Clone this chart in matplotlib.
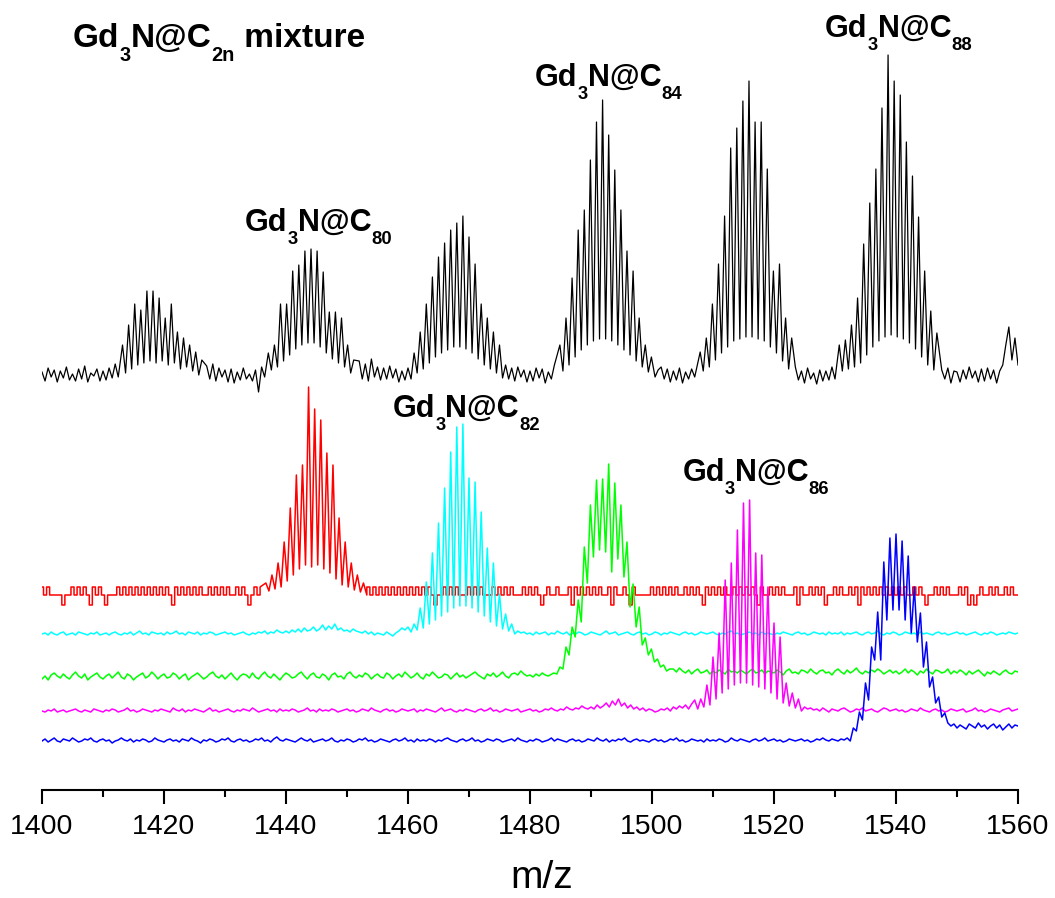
import numpy as np
import matplotlib
matplotlib.use("Agg")
import matplotlib.pyplot as plt
from matplotlib.ticker import MultipleLocator

plt.rcParams['font.family'] = ['Liberation Sans', 'DejaVu Sans']

# noise samples start at m/z 1400, one value every 0.5 m/z
mz0 = 1400
step = 0.5

# baseline of each trace (arb. intensity, stacked)
base_black = 415
base_red = 195
base_cyan = 156
base_green = 113
base_magenta = 79
base_blue = 49

# isotope clusters: (first peak m/z, peak heights, dips between peaks)
black_clusters = [
    (1413.2, [30, 50, 71, 65, 84, 84, 77, 57, 71, 43, 37, 30, 23, 15],
     [2, 6, 10, 12, 14, 12, 14, 10, 12, 6, 8, 4, 0]),
    (1437.1, [22, 30, 71, 71, 104, 110, 124, 126, 124, 103, 63, 63, 57, 30, 15],
     [5, 8, 14, 20, 26, 30, 32, 32, 28, 22, 16, 12, 8, 2]),
    (1461.0, [22, 43, 71, 98, 118, 132, 145, 152, 159, 138, 111, 71, 57, 43, 30],
     [2, 6, 12, 18, 22, 25, 28, 28, 26, 22, 16, 10, 6, 2]),
    (1484.9, [30, 57, 97, 145, 165, 215, 253, 275, 240, 205, 165, 124, 104, 57, 30, 18],
     [4, 10, 18, 25, 30, 34, 36, 36, 34, 30, 25, 20, 14, 8, 3]),
    (1507.9, [23, 37, 71, 111, 159, 227, 247, 274, 294, 253, 253, 206, 104, 111, 57, 37],
     [4, 8, 15, 22, 28, 34, 36, 38, 38, 36, 34, 28, 22, 14, 6]),
    (1530.7, [30, 35, 50, 77, 131, 172, 206, 267, 320, 294, 280, 233, 199, 158, 104, 64, 42],
     [4, 6, 8, 12, 20, 28, 34, 38, 40, 38, 36, 32, 26, 18, 10, 5]),
]
red_cluster = (1436.7, [12, 20, 32, 53, 87, 120, 130, 208, 186, 175, 142, 130, 77, 53, 32, 20, 12],
               [4, 6, 8, 14, 20, 26, 30, 28, 30, 26, 22, 16, 10, 8, 5, 3])
cyan_cluster = (1460.0, [7, 10, 26, 52, 81, 111, 146, 182, 207, 210, 156, 152, 122, 86, 71, 40, 20, 10],
                [2, 4, 6, 10, 14, 18, 22, 26, 28, 28, 26, 22, 18, 12, 8, 5, 3])
green_cluster = (1483.9, [4, 10, 30, 50, 77, 130, 172, 197, 198, 213, 194, 172, 135, 93, 70, 39, 28, 18, 12, 8],
                 [3, 8, 22, 40, 55, 94, 120, 127, 125, 105, 118, 100, 70, 50, 32, 22, 15, 10, 6])
magenta_cluster = (1507.0, [11, 12, 26, 54, 78, 131, 148, 181, 208, 211, 158, 156, 124, 88, 74, 28, 18, 12],
                   [2, 4, 6, 12, 18, 22, 26, 28, 28, 26, 24, 22, 18, 12, 8, 5, 3])
blue_cluster = (1533.0, [13, 29, 58, 94, 129, 179, 203, 207, 200, 185, 154, 128, 99, 64, 44, 28],
                [10, 21, 41, 81, 81, 121, 131, 131, 121, 108, 99, 74, 54, 38, 24])

# baseline noise
black_noise = [
    3, -6, 7, -2, 5, -7, 4, -3, 8, -5, 1, -6, 6, -4, 9, -7, 2, -1, 6, -6,
    4, -5, 7, -3, 11, -2, 12, -4, 10, -3, 6, -2, 5, -3, 4, -2, 5, -3, 4, -2,
    4, -2, 5, -3, 4, -2, 5, -3, 4, -2, 5, -3, 4, -2, 9, -4, 11, -6, 7, -2,
    5, -7, 6, -8, 3, -5, 7, -4, 1, -6, 5, -17, 8, -2, 11, -3, 14, -2, 15, -3,
    4, -2, 5, -3, 4, -2, 5, -3, 4, -2, 5, -3, 4, -2, 5, -3, 4, -2, 5, -3,
    4, -2, 5, -3, 14, -4, 11, -6, 16, -2, 8, -5, 7, -4, 9, -3, 6, -7, 4, -5,
    7, -4, 4, -2, 5, -3, 4, -2, 5, -3, 4, -2, 5, -3, 4, -2, 5, -3, 4, -2,
    4, -2, 5, -3, 4, -2, 5, -3, 4, -2, 5, -3, 10, -4, 7, -6, 8, -2, 5, -7,
    4, -6, 7, -3, 6, -8, 3, -4, 10, -2, 5, -3, 4, -2, 5, -3, 4, -2, 5, -3,
    4, -2, 5, -3, 4, -2, 5, -3, 4, -2, 5, -3, 4, -2, 5, -3, 4, -2, 5, -3,
    4, -2, 5, 8, -4, 6, -7, 4, -5, 7, -8, 3, -4, 6, -2, 7, -3, 5, -2, 4,
    4, -2, 5, -3, 4, -2, 5, -3, 4, -2, 5, -3, 4, -2, 5, -3, 4, -2, 5, -3,
    4, -2, 5, -3, 4, -2, 5, 8, -5, 4, -8, 7, -4, 2, -9, 5, -6, 4, -5, 8,
    -4, 7, -3, 5, -3, 5, -2, 4, -3, 5, -2, 4, -3, 5, -2, 4, -3, 5, -2, 4,
    -3, 5, -2, 4, -3, 5, -2, 4, -3, 5, -2, 4, -3, 5, -2, 5, -4, 7, -8, 4,
    3, -7, 5, -4, 8, -3, 4, -7, 6, -6, 7, -4, 5, -8, 4, 10, 30, 48, 15, 37,
    10,
]
# red trace is digitised in steps: 1 = up step, -1 = down step
red_codes = [
    1, 0, 1, 0, 0, 0, 0, -1, 0, 0, 1, 0, 1, 0, 1, 0, -1, 1, 0, 1,
    0, -1, 0, 0, 0, 1, 0, 1, 0, 1, 0, 1, 0, 1, 0, 1, 0, 1, 0, 1,
    0, 1, 0, -1, 1, 0, 1, 0, 1, 0, 1, 0, 1, 0, 0, 1, 0, 1, 0, 1,
    0, 1, 0, 0, 1, 0, 1, 0, -1, 0, 1, 0, 1, 0, 1, 0, 1, 0, 1, 0,
    0, 0, 0, 0, 0, 0, 0, 0, 0, 0, 0, 0, 0, 0, 0, 0, 0, 0, 0, 0,
    0, 0, 0, 0, 0, 0, 0, 1, 0, 1, 0, 1, 0, 1, 0, 1, 0, 1, 0, 1,
    0, 1, 0, 1, 0, 1, 0, 1, 0, -1, 0, 0, 1, 0, 1, 0, 1, 0, 0, 0,
    1, 0, 1, 0, 1, 0, 0, 0, 1, 0, 1, 0, 1, 0, 1, 0, 0, 0, 1, 0,
    1, 0, 1, 0, -1, 0, 1, 0, 0, 1, 0, 0, 0, 1, -1, 1, 0, 1, 0, 1,
    0, 1, 0, 1, 0, 0, 1, -1, 1, 0, 0, 1, 0, -1, 1, 0, 0, 0, 0, 0,
    1, 0, 1, 0, 1, 0, 1, 0, 1, 0, 0, 1, 0, 1, 0, 1, 0, -1, 1, 0,
    1, 0, 1, 0, 1, 0, 0, 1, 0, 1, 0, 1, 0, 1, 0, -1, 1, 0, 0, 1,
    0, 1, 0, 1, 0, 0, 0, 1, -1, 1, 0, 0, 1, 0, 1, 0, 1, -1, 0, 0,
    1, 0, 1, 0, 0, 1, 0, 1, -1, 1, 0, 1, 0, 1, 0, 1, 0, 1, 0, 1,
    0, 1, 0, 1, 0, 0, 1, 0, 1, 0, -1, 0, 0, 1, 0, 1, 0, 1, 0, 0,
    0, 1, 0, 1, -1, 0, -1, 0, 1, 0, 0, 1, 0, 1, 0, 0, 1, 0, 1, 0,
    0,
]
red_up = 8
red_down = -10
cyan_noise = [
    0, 1, -1, 2, 0, -1, 1, 2, -1, 0, 1, -1, 2, 1, 0, -1, 1, 0, 2, -1,
    0, 1, -1, 1, 2, 0, -1, 1, 0, 2, -1, 1, 3, 0, 1, -1, 2, 1, 0, 1,
    -1, 2, 0, 1, 3, 0, 1, -1, 2, 1, 0, 2, -1, 1, 0, 2, 1, -1, 0, 1,
    2, 0, 1, -1, 0, 1, 2, 0, -1, 1, 0, 2, 1, 3, 0, 2, 1, 4, 2, 1,
    3, 1, 4, 2, 5, 2, 6, 3, 4, 7, 3, 5, 9, 4, 8, 5, 10, 4, 6, 3,
    4, 2, 5, 3, 2, 1, 3, 0, 2, -1, 1, 0, -1, 2, 0, -2, 1, 3, 6, 4,
    0, 0, 0, 0, 0, 0, 0, 0, 0, 0, 0, 0, 0, 0, 0, 0, 0, 0, 0, 0,
    0, 0, 0, 0, 0, 0, 0, 0, 0, 0, 0, 0, 0, 0, 0, 0, 3, 1, 2, 0,
    1, -1, 2, 0, 1, 2, -1, 1, 0, 3, 1, 0, 2, -1, 1, 0, 2, 1, -1, 0,
    2, 1, 0, -1, 1, 3, 0, 1, 2, -1, 0, 1, 2, 0, -1, 1, 2, 0, 1, -1,
    0, 2, 1, -1, 1, 0, 2, 1, 0, -1, 1, 2, 0, 1, -1, 0, 2, 1, 0, 1,
    2, 0, -1, 1, 0, 2, 3, 0, 1, -1, 0, 1, 2, 0, 1, -1, 2, 0, 1, 0,
    -1, 1, 0, 2, 1, 0, -1, 1, 2, 0, 1, -1, 0, 2, 1, 0, 1, -1, 2, 0,
    1, 0, 2, -1, 1, 0, 1, 2, 0, -1, 1, 2, 0, 1, 3, 0, -1, 1, 0, 2,
    1, -1, 0, 2, 1, 0, 1, -1, 2, 0, 1, 0, -1, 1, 2, 0, 1, -1, 0, 1,
    2, 0, 1, -1, 0, 1, 2, 0, -1, 1, 0, 2, 1, -1, 0, 1, 0, 2, 1, 0,
    1,
]
green_noise = [
    -2, 1, -3, 2, 4, 1, -1, 3, 0, -2, 2, 5, 1, -1, 3, -3, 0, 2, 4, 0,
    -2, 1, 3, -1, 2, 5, 0, -2, 3, 1, -3, 0, 2, 4, -1, 1, 5, 2, -2, 1,
    3, -1, 0, 4, 2, -2, 1, 3, -3, 0, 2, 4, 1, -2, 0, 3, 5, 1, -1, 2,
    -2, 1, 4, 0, -3, 1, 3, 2, -1, 4, 0, -2, 2, 5, 1, -1, 3, 0, -3, 1,
    4, 2, -1, 0, 3, 5, 1, -2, 2, 4, 0, -1, 3, 1, -3, 2, 4, 0, 1, -2,
    3, 5, 1, -1, 2, 0, 4, 2, -2, 1, 3, 0, -1, 4, 2, -2, 1, 3, 0, 5,
    2, -1, 1, 4, 0, -2, 3, 1, 5, 2, -1, 0, 3, 2, -2, 1, 4, 0, 2, -1,
    1, 3, 5, 2, 0, -2, 3, 1, 4, 0, 2, 5, 1, -1, 3, 4, 2, 6, 3, 1,
    2, 0, 3, 1, 4, 2, 1, 0, 0, 0, 0, 0, 0, 0, 0, 0, 0, 0, 0, 0,
    0, 0, 0, 0, 0, 0, 0, 0, 0, 0, 0, 0, 0, 0, 0, 0, 0, 0, 0, 0,
    0, 0, 0, 0, 0, 0, 0, 8, 5, 9, 6, 4, 7, 3, 6, 8, 4, 5, 7, 3,
    6, 4, 7, 5, 3, 8, 5, 6, 4, 7, 5, 3, 6, 8, 4, 5, 7, 3, 6, 5,
    4, 7, 5, 2, 6, 8, 4, 5, 3, 7, 6, 4, 8, 5, 3, 6, 7, 4, 5, 2,
    6, 8, 5, 3, 7, 4, 6, 9, 5, 3, 6, 4, 7, 5, 8, 6, 3, 5, 7, 4,
    6, 3, 5, 8, 4, 7, 5, 2, 6, 4, 8, 5, 3, 7, 6, 4, 5, 8, 3, 6,
    4, 7, 5, 2, 6, 3, 5, 7, 4, 1, 5, 3, 6, 4, 2, 5, 7, 4, 3, 6,
    5,
]
magenta_noise = [
    0, -1, 1, 0, 2, -1, 0, 1, -1, 0, 1, 2, 0, -1, 1, 0, -1, 2, 1, 0,
    -1, 1, 0, 2, 1, -1, 0, 1, 3, 0, 1, -1, 0, 2, 1, 0, -1, 1, 0, 2,
    1, 0, -1, 3, 1, 0, 2, -1, 1, 0, 2, 1, 0, -1, 1, 3, 0, 1, -1, 0,
    1, 2, 0, -1, 1, 0, 2, 1, 0, 3, 1, -1, 0, 1, 2, 0, 1, -1, 2, 0,
    1, 0, 2, 1, -1, 0, 1, 3, 0, 1, -1, 2, 0, 1, 0, 2, 1, -1, 0, 1,
    2, 0, 1, -1, 0, 2, 1, 0, 3, 1, 0, -1, 1, 2, 0, 1, -1, 0, 2, 1,
    0, 1, 2, -1, 1, 0, 2, 1, 0, -1, 1, 3, 0, 1, 2, 0, -1, 1, 0, 2,
    1, 0, -1, 1, 2, 0, 1, 3, 0, 1, -1, 0, 2, 1, 0, 1, 2, -1, 0, 1,
    2, 0, 1, -1, 0, 2, 1, 3, 1, 0, 2, 1, 4, 2, 1, 3, 2, 5, 3, 2,
    4, 2, 6, 3, 5, 8, 4, 10, 6, 12, 5, 8, 3, 6, 2, 4, 1, 3, 0, 2,
    1, -1, 0, 2, 1, 3, 0, 4, 2, 5, 3, 6, 2, 7, 4, 8, 5, 9, 6, 10,
    0, 0, 0, 0, 0, 0, 0, 0, 0, 0, 0, 0, 0, 0, 0, 0, 0, 0, 0, 0,
    0, 0, 0, 0, 0, 0, 0, 0, 0, 0, 4, 2, 3, 1, 2, 0, 3, 1, -1, 2,
    1, 0, 2, 3, 1, -1, 0, 2, 1, 3, 0, 1, 2, 0, -1, 1, 3, 2, 0, 1,
    2, 0, 1, -1, 0, 2, 1, 0, 3, 1, 0, -1, 1, 2, 0, 1, -1, 0, 2, 1,
    0, 1, 2, -1, 0, 1, 3, 0, 1, -1, 0, 2, 1, 0, -1, 1, 2, 3, 0, 1,
    2,
]
blue_noise = [
    0, 2, -1, 1, 3, 0, -1, 2, 1, 0, 3, 1, -1, 0, 2, 1, 3, 0, -1, 1,
    2, 0, 1, -2, 0, 1, 3, 1, 0, 2, -1, 1, 0, 2, 1, -1, 0, 3, 1, 0,
    -1, 1, 2, 0, 1, -1, 2, 1, 0, 3, 1, 0, -2, 1, 0, 2, 1, -1, 0, 2,
    1, 3, 0, -1, 1, 2, 0, 1, -1, 0, 2, 1, 3, 0, 1, -1, 2, 4, 1, 0,
    2, 1, 0, -1, 1, 3, 1, 0, 2, -1, 0, 1, 2, 0, 1, 3, 0, -1, 1, 0,
    2, 1, -1, 0, 2, 1, 3, 0, 1, -1, 0, 2, 1, 0, -1, 1, 2, 0, 1, 3,
    0, 1, -1, 2, 0, 1, 0, 2, 1, -1, 1, 0, 2, 3, 1, 0, -1, 1, 2, 0,
    1, 3, 0, 1, -1, 0, 2, 1, 0, 2, 1, -1, 0, 1, 2, 0, 3, 1, 0, -1,
    1, 0, 2, 1, -1, 0, 1, 3, 0, 2, 1, 0, -1, 1, 2, 0, 1, -1, 0, 2,
    1, 0, 3, 1, 0, 2, -1, 1, 0, 2, 1, 3, 0, -1, 1, 2, 0, 1, 0, -1,
    1, 2, 0, 1, -1, 0, 2, 1, 3, 0, 1, -1, 0, 2, 1, 0, 1, -1, 2, 0,
    1, 0, 2, 1, -1, 0, 3, 1, 0, 2, 1, 0, -1, 1, 2, 0, 1, 3, 0, 1,
    2, 0, 1, -1, 0, 2, 1, 0, 1, 2, 0, 1, -1, 0, 2, 1, 3, 1, 0, 2,
    1, 0, 2, 1, 3, 0, 0, 0, 0, 0, 0, 0, 0, 0, 0, 0, 0, 0, 0, 0,
    0, 0, 0, 0, 0, 0, 0, 0, 0, 0, 0, 0, 0, 0, 0, 0, 0, 18, 15, 17,
    13, 16, 14, 12, 17, 15, 13, 18, 14, 16, 12, 15, 17, 13, 16, 11, 14, 17, 13, 16,
    15,
]

# label anchor (m/z, intensity), text pieces alternating normal / subscript
labels = [
    (1405.1, 743, ['Gd', '3', 'N@C', '2n', ' mixture'], 24),
    (1433.3, 559, ['Gd', '3', 'N@C', '80'], 22),
    (1480.8, 704, ['Gd', '3', 'N@C', '84'], 22),
    (1528.4, 753, ['Gd', '3', 'N@C', '88'], 22),
    (1457.5, 373, ['Gd', '3', 'N@C', '82'], 22),
    (1505.0, 309, ['Gd', '3', 'N@C', '86'], 22),
]


def build_trace(x, y, base, clusters):
    x = np.asarray(x, float)
    y = np.asarray(y, float)
    keep = np.ones(len(x), bool)
    xs, ys = [], []
    for start, peaks, dips in clusters:
        px = start + np.arange(len(peaks))
        keep &= (x <= start - 0.5) | (x >= px[-1] + 0.5)
        n = min(len(dips), len(peaks) - 1)
        xs += [px, px[:n] + 0.5]
        ys += [np.asarray(peaks, float), np.asarray(dips[:n], float)]
    xx = np.concatenate([x[keep]] + xs)
    yy = np.concatenate([y[keep]] + ys)
    order = np.argsort(xx, kind='stable')
    return xx[order], yy[order] + base


def grid(values):
    return mz0 + step * np.arange(len(values))


fig = plt.figure(figsize=(10.55, 8.98), dpi=100)
ax = fig.add_axes([42 / 1055, 108 / 898, 976 / 1055, 780 / 898])

# red: step-like digitised noise -> explicit flat segments
codes = np.array(red_codes)
red_vals = np.where(codes > 0, red_up, np.where(codes < 0, red_down, 0))
red_x = np.repeat(grid(red_codes), 2) + np.tile([-step / 2, step / 2], len(red_codes))
red_y = np.repeat(red_vals, 2)

traces = [
    (grid(black_noise), black_noise, base_black, black_clusters, 'black', 0.9),
    (red_x, red_y, base_red, [red_cluster], '#ff0000', 1.1),
    (grid(cyan_noise), cyan_noise, base_cyan, [cyan_cluster], '#00ffff', 1.1),
    (grid(green_noise), green_noise, base_green, [green_cluster], '#00ff00', 1.1),
    (grid(magenta_noise), magenta_noise, base_magenta, [magenta_cluster], '#ff00ff', 1.1),
    (grid(blue_noise), blue_noise, base_blue, [blue_cluster], '#0000ff', 1.1),
]
for x, y, base, clusters, col, lw in traces:
    tx, ty = build_trace(x, y, base, clusters)
    ax.plot(tx, ty, color=col, lw=lw)


def chem_label(x, y, parts, size=22):
    sub_size = size * 0.6
    drop = size * 0.34
    prev = ax.text(x, y, parts[0], fontsize=size, fontweight='bold',
                   ha='left', va='baseline')
    for i, s in enumerate(parts[1:], start=1):
        is_sub = i % 2 == 1
        dy = -drop if is_sub else drop
        prev = ax.annotate(s, xy=(1, 0), xycoords=prev, xytext=(0, dy),
                           textcoords='offset points',
                           fontsize=sub_size if is_sub else size,
                           fontweight='bold', ha='left', va='bottom')


for x, y, parts, size in labels:
    chem_label(x, y, parts, size)

ax.set_xlim(1400, 1560)
ax.set_ylim(0, 780)
ax.set_yticks([])
for side in ['left', 'right', 'top']:
    ax.spines[side].set_visible(False)
ax.spines['bottom'].set_linewidth(1.5)
ax.xaxis.set_major_locator(MultipleLocator(20))
ax.xaxis.set_minor_locator(MultipleLocator(10))
ax.tick_params(axis='x', which='major', length=10, width=1.5, labelsize=20.5, pad=7)
ax.tick_params(axis='x', which='minor', length=5, width=1.5)
ax.set_xlabel('m/z', fontsize=28)
ax.xaxis.set_label_coords((542 - 42) / 976, -0.09)

fig.savefig('out.png', dpi=100)
